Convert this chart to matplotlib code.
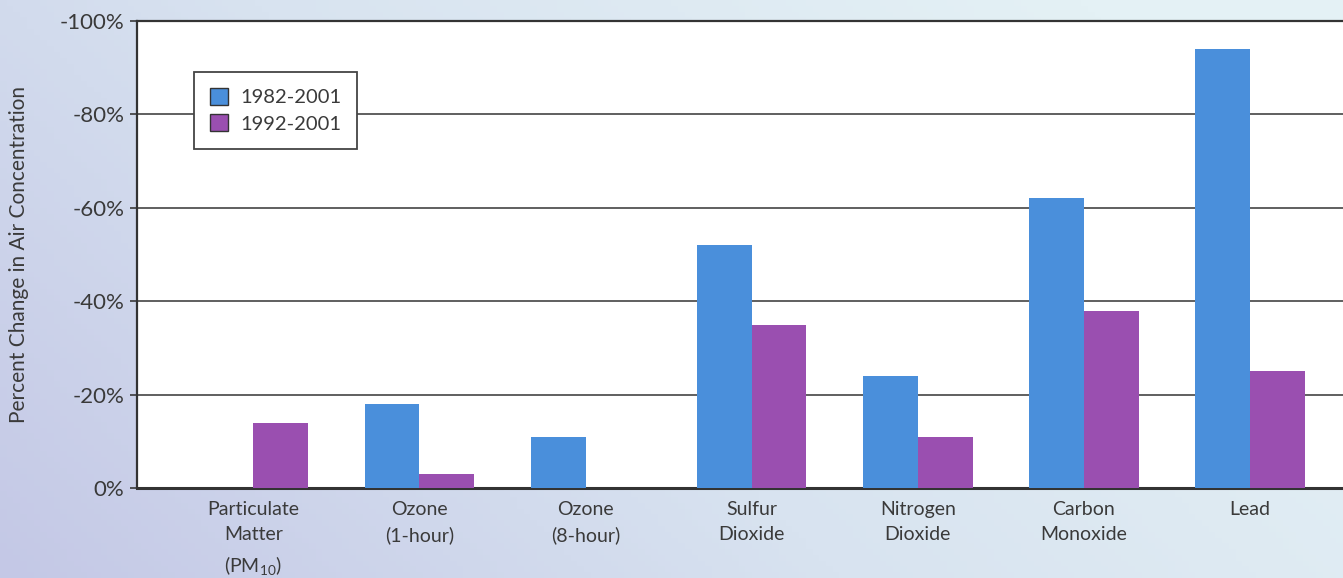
import numpy as np
import matplotlib
matplotlib.use("Agg")
import matplotlib.pyplot as plt
from matplotlib.colors import LinearSegmentedColormap

plt.rcParams['font.family'] = ['Lato', 'DejaVu Sans']
plt.rcParams['mathtext.default'] = 'regular'

# Pollutants and percent change in air concentration
categories = ["Particulate\nMatter\n$(PM_{10})$", "Ozone\n(1-hour)", "Ozone\n(8-hour)",
              "Sulfur\nDioxide", "Nitrogen\nDioxide", "Carbon\nMonoxide", "Lead"]
change_1982_2001 = [np.nan, -18, -11, -52, -24, -62, -94]
change_1992_2001 = [-14, -3, 0, -35, -11, -38, -25]
series_labels = ["1982-2001", "1992-2001"]
y_ticks = [0, -20, -40, -60, -80, -100]
y_tick_labels = ["0%", "-20%", "-40%", "-60%", "-80%", "-100%"]

blue = "#4a8fdb"
purple = "#9a4fb0"
ink = "#3a3a3a"

fig = plt.figure(figsize=(13.43, 5.78), dpi=100)

# soft lavender-to-cyan page background
bg = fig.add_axes([0, 0, 1, 1], zorder=-10)
cmap = LinearSegmentedColormap.from_list("page", ["#c4c8e6", "#d8e3f0", "#e4f1f5"])
gx, gy = np.meshgrid(np.linspace(0, 1, 200), np.linspace(0, 1, 100))
bg.imshow(np.clip(gx * 0.8 + (1 - gy) * 0.35, 0, 1), cmap=cmap, aspect="auto",
          extent=[0, 1, 0, 1], origin="upper")
bg.axis("off")

ax = fig.add_axes([0.102, 0.1557, 0.898, 0.808])
ax.set_facecolor("white")

x = np.arange(len(categories))
w = 0.33
ax.bar(x - w / 2, change_1982_2001, w, color=blue, label=series_labels[0], zorder=3)
ax.bar(x + w / 2, change_1992_2001, w, color=purple, label=series_labels[1], zorder=3)

ax.set_xlim(-0.70, 6.56)
ax.set_ylim(0, -100)
ax.set_yticks(y_ticks)
ax.set_yticklabels(y_tick_labels, fontsize=16, color=ink)
ax.set_xticks(x)
ax.set_xticklabels(categories, fontsize=14, color=ink, linespacing=1.6, va="top")
ax.tick_params(axis="x", length=0, pad=9)
ax.tick_params(axis="y", length=5, width=1.2, color=ink, pad=4)

for v in y_ticks[1:-1]:
    ax.axhline(v, color="#444444", lw=1.2, zorder=1)

for side in ["top", "left"]:
    ax.spines[side].set_color("#333333")
    ax.spines[side].set_linewidth(1.6)
ax.spines["bottom"].set_color("#333333")
ax.spines["bottom"].set_linewidth(2.2)
ax.spines["right"].set_visible(False)

ax.set_ylabel("Percent Change in Air Concentration", fontsize=15, color=ink, labelpad=22)

leg = ax.legend(loc="upper left", bbox_to_anchor=(0.047, 0.891), borderaxespad=0,
                fancybox=False, framealpha=1, edgecolor="#444444", fontsize=14.5,
                handlelength=0.9, handleheight=0.9, handletextpad=0.6,
                borderpad=0.8, labelspacing=0.4)
leg.get_frame().set_linewidth(1.3)
for h in leg.legend_handles:
    h.set_edgecolor("#333333")
    h.set_linewidth(1.0)
for t in leg.get_texts():
    t.set_color(ink)

fig.savefig("out.png", dpi=100)
